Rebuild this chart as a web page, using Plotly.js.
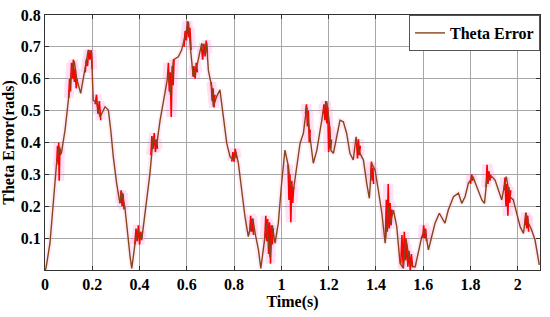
<!DOCTYPE html>
<html>
<head>
<meta charset="utf-8">
<script src="https://cdn.plot.ly/plotly-3.0.1.min.js"></script>
<style>
  html, body { margin: 0; padding: 0; background: #fff; }
  #chart { width: 550px; height: 317px; }
</style>
</head>
<body>
<div id="chart"></div>
<script>
// Theta error, main (smoothed) path
const t = [0.000,0.004,0.021,0.042,0.049,0.061,0.069,0.085,0.099,0.113,0.124,0.134,0.151,0.162,0.183,0.197,
  0.204,0.219,0.233,0.254,0.268,0.278,0.289,0.303,0.317,0.324,0.338,0.360,0.367,0.381,0.395,0.409,0.430,0.444,
  0.458,0.472,0.487,0.500,0.522,0.531,0.543,0.564,0.578,0.592,0.607,0.616,0.627,0.642,0.663,0.677,0.684,0.691,
  0.705,0.712,0.726,0.740,0.755,0.769,0.783,0.797,0.808,0.818,0.832,0.846,0.860,0.879,0.889,0.903,0.913,0.924,
  0.938,0.952,0.962,0.973,0.987,1.001,1.015,1.030,1.037,1.051,1.065,1.079,1.093,1.107,1.121,1.135,1.150,1.164,
  1.178,1.192,1.203,1.209,1.220,1.234,1.248,1.262,1.276,1.290,1.304,1.316,1.326,1.340,1.347,1.361,1.372,1.382,
  1.396,1.410,1.425,1.439,1.453,1.460,1.474,1.488,1.502,1.516,1.527,1.541,1.555,1.566,1.580,1.594,1.608,1.622,
  1.636,1.650,1.668,1.685,1.692,1.706,1.728,1.749,1.763,1.777,1.791,1.810,1.827,1.848,1.859,1.869,1.890,1.904,
  1.918,1.932,1.951,1.967,1.981,1.996,2.010,2.024,2.035,2.045,2.059,2.073,2.091];
const theta = [0.000,0.005,0.084,0.293,0.335,0.387,0.365,0.440,0.533,0.627,0.655,0.600,0.554,0.606,0.690,0.680,
  0.533,0.523,0.480,0.512,0.502,0.440,0.355,0.272,0.209,0.246,0.196,0.042,0.005,0.084,0.125,0.094,0.230,0.303,
  0.418,0.390,0.470,0.523,0.617,0.550,0.659,0.669,0.690,0.732,0.779,0.690,0.606,0.638,0.711,0.680,0.711,0.627,
  0.575,0.513,0.544,0.565,0.481,0.397,0.355,0.345,0.370,0.335,0.251,0.167,0.105,0.162,0.115,0.063,0.005,0.063,
  0.147,0.040,0.140,0.084,0.147,0.272,0.376,0.324,0.272,0.251,0.324,0.397,0.429,0.512,0.418,0.335,0.376,0.439,
  0.502,0.528,0.460,0.376,0.366,0.418,0.470,0.465,0.429,0.366,0.345,0.418,0.376,0.355,0.345,0.272,0.225,0.335,
  0.314,0.251,0.178,0.084,0.200,0.147,0.188,0.136,0.021,0.005,0.100,0.031,0.010,0.010,0.063,0.105,0.125,0.063,
  0.105,0.147,0.178,0.157,0.147,0.188,0.230,0.241,0.209,0.230,0.272,0.293,0.261,0.220,0.209,0.282,0.293,0.282,
  0.251,0.220,0.293,0.230,0.220,0.178,0.136,0.115,0.178,0.147,0.125,0.094,0.016];

// Red high-frequency bursts (null breaks between bursts)
const tNoise = [
  0.050,0.053,0.056,0.058,0.060,0.063,0.066,null,
  0.100,0.104,0.108,0.112,0.116,0.120,0.124,0.128,0.132,0.136,null,
  0.170,0.175,0.180,0.185,0.190,0.195,0.200,null,
  0.212,0.218,0.224,0.230,0.236,null,
  0.318,0.322,0.326,0.330,0.334,null,
  0.380,0.385,0.390,0.395,0.400,0.405,0.410,null,
  0.448,0.452,0.457,0.462,0.467,0.472,0.476,null,
  0.518,0.522,0.526,0.530,0.534,0.538,0.542,0.546,null,
  0.588,0.593,0.598,0.603,0.608,0.613,0.618,null,
  0.625,0.630,0.635,0.640,0.645,null,
  0.662,0.667,0.672,0.677,0.682,0.687,null,
  0.703,0.707,0.711,0.715,0.719,null,
  0.790,0.795,0.800,0.805,0.810,null,
  0.866,0.870,0.874,0.878,0.882,null,
  0.930,0.934,0.938,0.942,0.946,0.950,0.954,0.958,0.962,0.966,null,
  1.028,1.032,1.036,1.040,1.044,1.048,1.052,null,
  1.102,1.106,1.110,1.114,1.118,1.122,null,
  1.176,1.180,1.184,1.188,1.192,1.196,1.200,1.204,1.208,1.212,null,
  1.318,1.322,1.326,1.330,1.334,null,
  1.378,1.381,1.384,1.387,1.390,null,
  1.440,1.444,1.448,1.452,1.456,1.460,1.464,1.468,null,
  1.505,1.510,1.515,1.520,1.525,1.530,1.535,1.540,1.545,1.550,1.555,null,
  1.598,1.602,1.606,1.610,1.614,null,
  1.800,1.805,1.810,null,
  1.866,1.870,1.874,1.878,1.882,1.886,null,
  1.942,1.946,1.950,1.954,1.958,1.962,1.966,1.970,null,
  2.030,2.034,2.038,2.042,2.046];
const thetaNoise = [
  0.34,0.39,0.33,0.40,0.28,0.38,0.36,null,
  0.54,0.60,0.56,0.65,0.60,0.66,0.59,0.63,0.57,0.60,null,
  0.62,0.66,0.64,0.69,0.66,0.69,0.63,null,
  0.52,0.55,0.49,0.53,0.47,null,
  0.21,0.25,0.20,0.24,0.19,null,
  0.08,0.13,0.09,0.14,0.08,0.12,0.10,null,
  0.36,0.42,0.38,0.43,0.37,0.41,0.38,null,
  0.60,0.65,0.56,0.62,0.48,0.64,0.58,0.66,null,
  0.70,0.75,0.72,0.78,0.73,0.76,0.69,null,
  0.61,0.64,0.60,0.65,0.62,null,
  0.70,0.66,0.71,0.67,0.72,0.68,null,
  0.59,0.53,0.57,0.51,0.55,null,
  0.34,0.37,0.34,0.38,0.35,null,
  0.12,0.17,0.12,0.16,0.11,null,
  0.10,0.17,0.09,0.16,0.05,0.15,0.02,0.14,0.08,0.13,null,
  0.33,0.22,0.30,0.15,0.28,0.21,0.26,null,
  0.49,0.52,0.45,0.50,0.40,0.44,null,
  0.49,0.52,0.47,0.53,0.46,0.51,0.37,0.45,0.38,0.41,null,
  0.40,0.35,0.41,0.36,0.39,null,
  0.29,0.34,0.28,0.32,0.27,null,
  0.10,0.22,0.12,0.27,0.13,0.21,0.14,0.19,null,
  0.02,0.11,0.01,0.12,0.03,0.08,0.01,0.06,0.00,0.05,0.01,null,
  0.10,0.14,0.10,0.13,0.09,null,
  0.27,0.30,0.28,null,
  0.26,0.33,0.27,0.31,0.28,0.30,null,
  0.25,0.29,0.20,0.27,0.17,0.26,0.21,0.25,null,
  0.14,0.18,0.13,0.17,0.12];

const xTicks = [0, 0.2, 0.4, 0.6, 0.8, 1, 1.2, 1.4, 1.6, 1.8, 2];
const yTicks = [0.1, 0.2, 0.3, 0.4, 0.5, 0.6, 0.7, 0.8];

const brown = "#86461a";
const serif = "Liberation Serif, Times New Roman, serif";

const traces = [
  { // pink glow under bursts
    x: tNoise, y: thetaNoise, type: "scatter", mode: "lines",
    line: { color: "rgba(255,120,215,0.22)", width: 10 },
    hoverinfo: "skip", showlegend: false
  },
  { // faint glow under the main path
    x: t, y: theta, type: "scatter", mode: "lines",
    line: { color: "rgba(255,170,225,0.25)", width: 5 },
    hoverinfo: "skip", showlegend: false
  },
  {
    x: tNoise, y: thetaNoise, type: "scatter", mode: "lines",
    line: { color: "#ff0000", width: 1.6 },
    showlegend: false
  },
  {
    x: t, y: theta, type: "scatter", mode: "lines",
    name: "Theta Error",
    line: { color: brown, width: 1.4 }
  }
];

const axisCommon = {
  showgrid: true,
  gridcolor: "#a6a6a6",
  gridwidth: 1,
  zeroline: false,
  showline: true,
  linecolor: "#333",
  linewidth: 1,
  mirror: "ticks",
  ticks: "inside",
  ticklen: 4,
  tickcolor: "#333",
  tickfont: { family: serif, size: 16, color: "#000", weight: "bold" }
};

Plotly.newPlot("chart", traces, {
  width: 550,
  height: 317,
  margin: { l: 45, r: 10, t: 15, b: 47 },
  paper_bgcolor: "#fff",
  plot_bgcolor: "#fff",
  font: { family: serif, color: "#000" },
  xaxis: Object.assign({}, axisCommon, {
    range: [0, 2.094],
    tickvals: xTicks,
    ticktext: xTicks.map(String),
    title: { text: "Time(s)", font: { family: serif, size: 16, weight: "bold" }, standoff: 2 }
  }),
  yaxis: Object.assign({}, axisCommon, {
    range: [0, 0.8],
    tickvals: yTicks,
    ticktext: yTicks.map(v => v.toFixed(1)),
    title: { text: "Theta Error(rads)", font: { family: serif, size: 16, weight: "bold" }, standoff: 3 }
  }),
  legend: {
    x: 1, y: 1, xanchor: "right", yanchor: "top",
    bgcolor: "#fff",
    bordercolor: "#555",
    borderwidth: 1,
    font: { family: serif, size: 16, weight: "bold", color: "#000" },
    itemwidth: 30,
    tracegroupgap: 0
  },
  showlegend: true
}, { displayModeBar: false, responsive: false });
</script>
</body>
</html>
